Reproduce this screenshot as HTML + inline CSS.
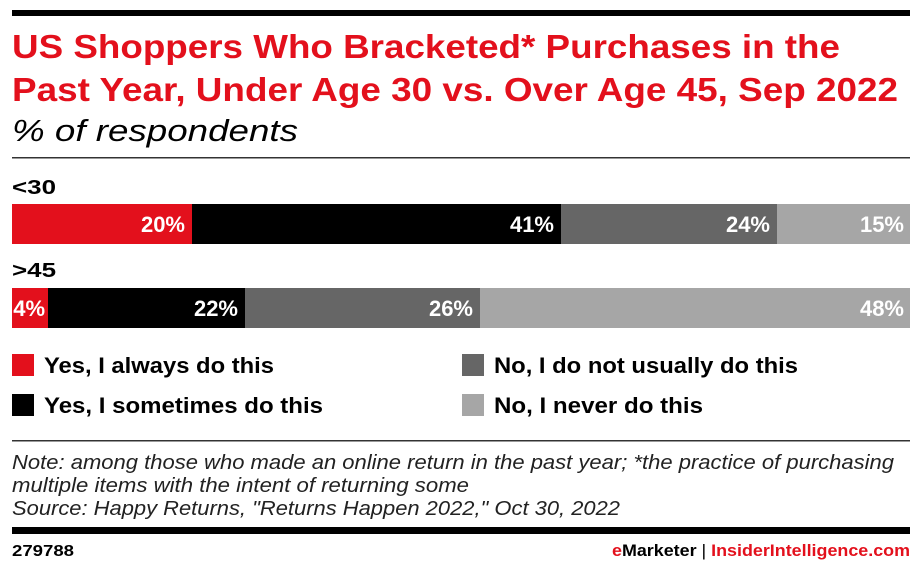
<!DOCTYPE html>
<html><head><style>body{margin:0;background:#fff}svg{display:block}</style></head><body>
<svg width="922" height="569" xmlns="http://www.w3.org/2000/svg" font-family="Liberation Sans, sans-serif">
<rect x="12" y="10" width="898" height="6" fill="#000"/>
<text x="12" y="58" font-size="33" font-weight="bold" fill="#e3101c" textLength="828" lengthAdjust="spacingAndGlyphs">US Shoppers Who Bracketed* Purchases in the</text>
<text x="12" y="101" font-size="33" font-weight="bold" fill="#e3101c" textLength="886" lengthAdjust="spacingAndGlyphs">Past Year, Under Age 30 vs. Over Age 45, Sep 2022</text>
<text x="12" y="141" font-size="31" font-style="italic" fill="#000" textLength="286" lengthAdjust="spacingAndGlyphs">% of respondents</text>
<rect x="12" y="157" width="898" height="1.5" fill="#333"/>
<text x="12" y="194" font-size="20" font-weight="bold" textLength="44" lengthAdjust="spacingAndGlyphs">&lt;30</text>
<rect x="12" y="204" width="180" height="40" fill="#e3101c"/>
<rect x="192" y="204" width="369" height="40" fill="#000"/>
<rect x="561" y="204" width="216" height="40" fill="#666"/>
<rect x="777" y="204" width="133" height="40" fill="#a6a6a6"/>
<g font-size="22" font-weight="bold" fill="#fff" text-anchor="end">
<text x="185" y="232">20%</text><text x="554" y="232">41%</text><text x="770" y="232">24%</text><text x="904" y="232">15%</text></g>
<text x="12" y="277" font-size="20" font-weight="bold" textLength="44" lengthAdjust="spacingAndGlyphs">&gt;45</text>
<rect x="12" y="288" width="36" height="40" fill="#e3101c"/>
<rect x="48" y="288" width="197" height="40" fill="#000"/>
<rect x="245" y="288" width="235" height="40" fill="#666"/>
<rect x="480" y="288" width="430" height="40" fill="#a6a6a6"/>
<g font-size="22" font-weight="bold" fill="#fff" text-anchor="end">
<text x="45" y="316">4%</text><text x="238" y="316">22%</text><text x="473" y="316">26%</text><text x="904" y="316">48%</text></g>
<g font-size="22" font-weight="bold">
<rect x="12" y="354" width="22" height="22" fill="#e3101c"/><text x="44" y="373" textLength="230" lengthAdjust="spacingAndGlyphs">Yes, I always do this</text>
<rect x="12" y="394" width="22" height="22" fill="#000"/><text x="44" y="413" textLength="279" lengthAdjust="spacingAndGlyphs">Yes, I sometimes do this</text>
<rect x="462" y="354" width="22" height="22" fill="#666"/><text x="494" y="373" textLength="304" lengthAdjust="spacingAndGlyphs">No, I do not usually do this</text>
<rect x="462" y="394" width="22" height="22" fill="#a6a6a6"/><text x="494" y="413" textLength="209" lengthAdjust="spacingAndGlyphs">No, I never do this</text></g>
<rect x="12" y="440" width="898" height="1.5" fill="#333"/>
<g font-size="20" font-style="italic" fill="#222">
<text x="12" y="469" textLength="882" lengthAdjust="spacingAndGlyphs">Note: among those who made an online return in the past year; *the practice of purchasing</text>
<text x="12" y="492" textLength="457" lengthAdjust="spacingAndGlyphs">multiple items with the intent of returning some</text>
<text x="12" y="515" textLength="608" lengthAdjust="spacingAndGlyphs">Source: Happy Returns, "Returns Happen 2022," Oct 30, 2022</text></g>
<rect x="12" y="527" width="898" height="7" fill="#000"/>
<text x="12" y="556" font-size="16" font-weight="bold" textLength="62" lengthAdjust="spacingAndGlyphs">279788</text>
<text x="910" y="556" font-size="17" font-weight="bold" text-anchor="end" textLength="298" lengthAdjust="spacingAndGlyphs"><tspan fill="#e3101c">e</tspan><tspan fill="#000">Marketer</tspan><tspan fill="#000" font-weight="normal">  |  </tspan><tspan fill="#e3101c">InsiderIntelligence.com</tspan></text>
</svg>
</body></html>
